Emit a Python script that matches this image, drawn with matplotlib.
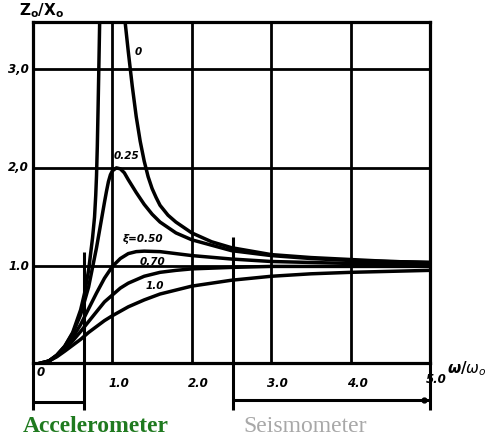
import matplotlib
matplotlib.use("Agg")
import matplotlib.pyplot as plt

# ---- data ----
omega_z0_left = [0, 0.1, 0.2, 0.3, 0.4, 0.5, 0.6, 0.65, 0.7, 0.75, 0.775, 0.79, 0.80, 0.81, 0.82, 0.83, 0.84]
amp_z0_left = [0, 0.01, 0.04, 0.10, 0.19, 0.33, 0.56, 0.73, 0.96, 1.29, 1.50, 1.72, 1.92, 2.22, 2.62, 3.05, 3.50]
omega_z0_right = [1.16, 1.2, 1.25, 1.3, 1.35, 1.4, 1.45, 1.5, 1.55, 1.6, 1.7, 1.8, 2.0, 2.25, 2.5, 3.0, 3.5, 4.0, 4.5, 5.0]
amp_z0_right = [3.48, 3.18, 2.83, 2.52, 2.27, 2.07, 1.91, 1.79, 1.70, 1.62, 1.52, 1.45, 1.34, 1.25, 1.19, 1.12, 1.09, 1.07, 1.05, 1.04]

omega_z025 = [0, 0.1, 0.2, 0.3, 0.4, 0.5, 0.6, 0.7, 0.8, 0.85, 0.9, 0.925, 0.95, 0.975, 1.0, 1.05, 1.1, 1.15, 1.2,
              1.3, 1.4, 1.5, 1.6, 1.8, 2.0, 2.5, 3.0, 3.5, 4.0, 4.5, 5.0]
amp_z025 = [0, 0.01, 0.04, 0.10, 0.19, 0.32, 0.51, 0.79, 1.19, 1.42, 1.65, 1.76, 1.86, 1.93, 1.97, 2.00, 1.99, 1.95, 1.88,
            1.75, 1.63, 1.53, 1.45, 1.34, 1.27, 1.16, 1.11, 1.08, 1.06, 1.05, 1.04]

omega_z050 = [0, 0.2, 0.3, 0.4, 0.5, 0.6, 0.7, 0.8, 0.9, 1.0, 1.1, 1.2, 1.3, 1.4, 1.6, 1.8, 2.0, 2.5, 3.0, 3.5, 4.0, 4.5, 5.0]
amp_z050 = [0, 0.04, 0.094, 0.17, 0.28, 0.41, 0.57, 0.73, 0.88, 1.00, 1.08, 1.13, 1.15, 1.155, 1.15, 1.13, 1.11, 1.075, 1.05, 1.04, 1.03, 1.025, 1.02]

omega_z070 = [0, 0.2, 0.3, 0.4, 0.5, 0.6, 0.7, 0.8, 0.9, 1.0, 1.1, 1.2, 1.4, 1.6, 1.8, 2.0, 2.5, 3.0, 4.0, 5.0]
amp_z070 = [0, 0.04, 0.09, 0.16, 0.244, 0.34, 0.44, 0.54, 0.64, 0.71, 0.78, 0.83, 0.90, 0.94, 0.96, 0.975, 0.99, 1.0, 1.0, 1.0]

omega_z100 = [0, 0.2, 0.3, 0.4, 0.5, 0.6, 0.7, 0.8, 0.9, 1.0, 1.2, 1.4, 1.6, 1.8, 2.0, 2.5, 3.0, 3.5, 4.0, 4.5, 5.0]
amp_z100 = [0, 0.04, 0.083, 0.14, 0.20, 0.26, 0.33, 0.39, 0.45, 0.50, 0.59, 0.66, 0.72, 0.76, 0.80, 0.86, 0.90, 0.925, 0.94, 0.95, 0.96]

curve_labels = ["0", "0.25", "ξ=0.50", "0.70", "1.0"]
curve_label_pos = [(1.32, 3.18), (1.18, 2.12), (1.38, 1.28), (1.50, 1.04), (1.54, 0.80)]

x_tick_values = [1.0, 2.0, 3.0, 4.0, 5.0]
x_tick_labels = ["1.0", "2.0", "3.0", "4.0", "5.0"]
y_tick_values = [1.0, 2.0, 3.0]
y_tick_labels = ["1.0", "2,0", "3,0"]

# ---- figure ----
W, H = 487, 438
fig = plt.figure(figsize=(W / 100, H / 100), dpi=100)
ax = fig.add_axes([33 / W, 75 / H, 397 / W, 341 / H])
ax.set_xlim(0, 5)
ax.set_ylim(0.02, 3.48)
ax.set_xticks([])
ax.set_yticks([])
for s in ax.spines.values():
    s.set_linewidth(2.3)
    s.set_color("black")

for xv in [1, 2, 3, 4]:
    ax.axvline(xv, color="black", lw=2.0, zorder=1)
for yv in y_tick_values:
    ax.axhline(yv, color="black", lw=2.0, zorder=1)

ckw = dict(color="black", lw=2.5, solid_joinstyle="round", solid_capstyle="round", zorder=3)
ax.plot(omega_z0_left, amp_z0_left, **ckw)
ax.plot(omega_z0_right, amp_z0_right, **ckw)
ax.plot(omega_z025, amp_z025, **ckw)
ax.plot(omega_z050, amp_z050, **ckw)
ax.plot(omega_z070, amp_z070, **ckw)
ax.plot(omega_z100, amp_z100, **ckw)

hand = dict(family="DejaVu Sans", weight="bold", style="oblique")
for lab, (xx, yy) in zip(curve_labels, curve_label_pos):
    ax.text(xx, yy, lab, fontsize=7.5, ha="center", va="center", zorder=4, **hand)

# tick labels (handwritten style)
for xv, lab in zip(x_tick_values, x_tick_labels):
    dy = -0.152 if xv == 5.0 else -0.183
    ax.text(xv + 0.08, dy, lab, fontsize=8.5, ha="center", va="center", clip_on=False, **hand)
ax.text(0.09, -0.08, "0", fontsize=8.5, ha="center", va="center", clip_on=False, **hand)
for yv, lab in zip(y_tick_values, y_tick_labels):
    ax.text(-0.05, yv, lab, fontsize=8.5, ha="right", va="center", clip_on=False, **hand)

fig.text(42 / W, 1 - 11 / H, r"$\mathbf{Z_o/X_o}$", fontsize=11, ha="center", va="center",
         style="italic")
fig.text(447 / W, 1 - 369 / H, r"$\boldsymbol{\omega/\omega_o}$", fontsize=11, ha="left", va="center")

# bracket lines below the chart
lkw = dict(color="black", lw=2.2, clip_on=False, zorder=3, solid_capstyle="butt")
ax.plot([0, 0], [0.02, -0.457], **lkw)
ax.plot([0.64, 0.64], [1.146, -0.457], **lkw)
ax.plot([0, 0.64], [-0.376, -0.376], **lkw)
ax.plot([2.52, 2.52], [1.30, -0.457], **lkw)
ax.plot([2.52, 5.0], [-0.355, -0.355], **lkw)
ax.plot([5.0, 5.0], [0.02, -0.457], **lkw)
ax.plot([4.92], [-0.355], "o", color="black", ms=3.5, clip_on=False)

fig.text(23 / W, 6 / H, "Accelerometer", fontsize=17, fontweight="bold", color="#1f7a1f",
         family="Liberation Serif", ha="left", va="baseline")
fig.text(243 / W, 6 / H, "Seismometer", fontsize=17, color="#a8a8a8",
         family="Liberation Serif", ha="left", va="baseline")

fig.savefig("out.png", dpi=100, facecolor="white")
